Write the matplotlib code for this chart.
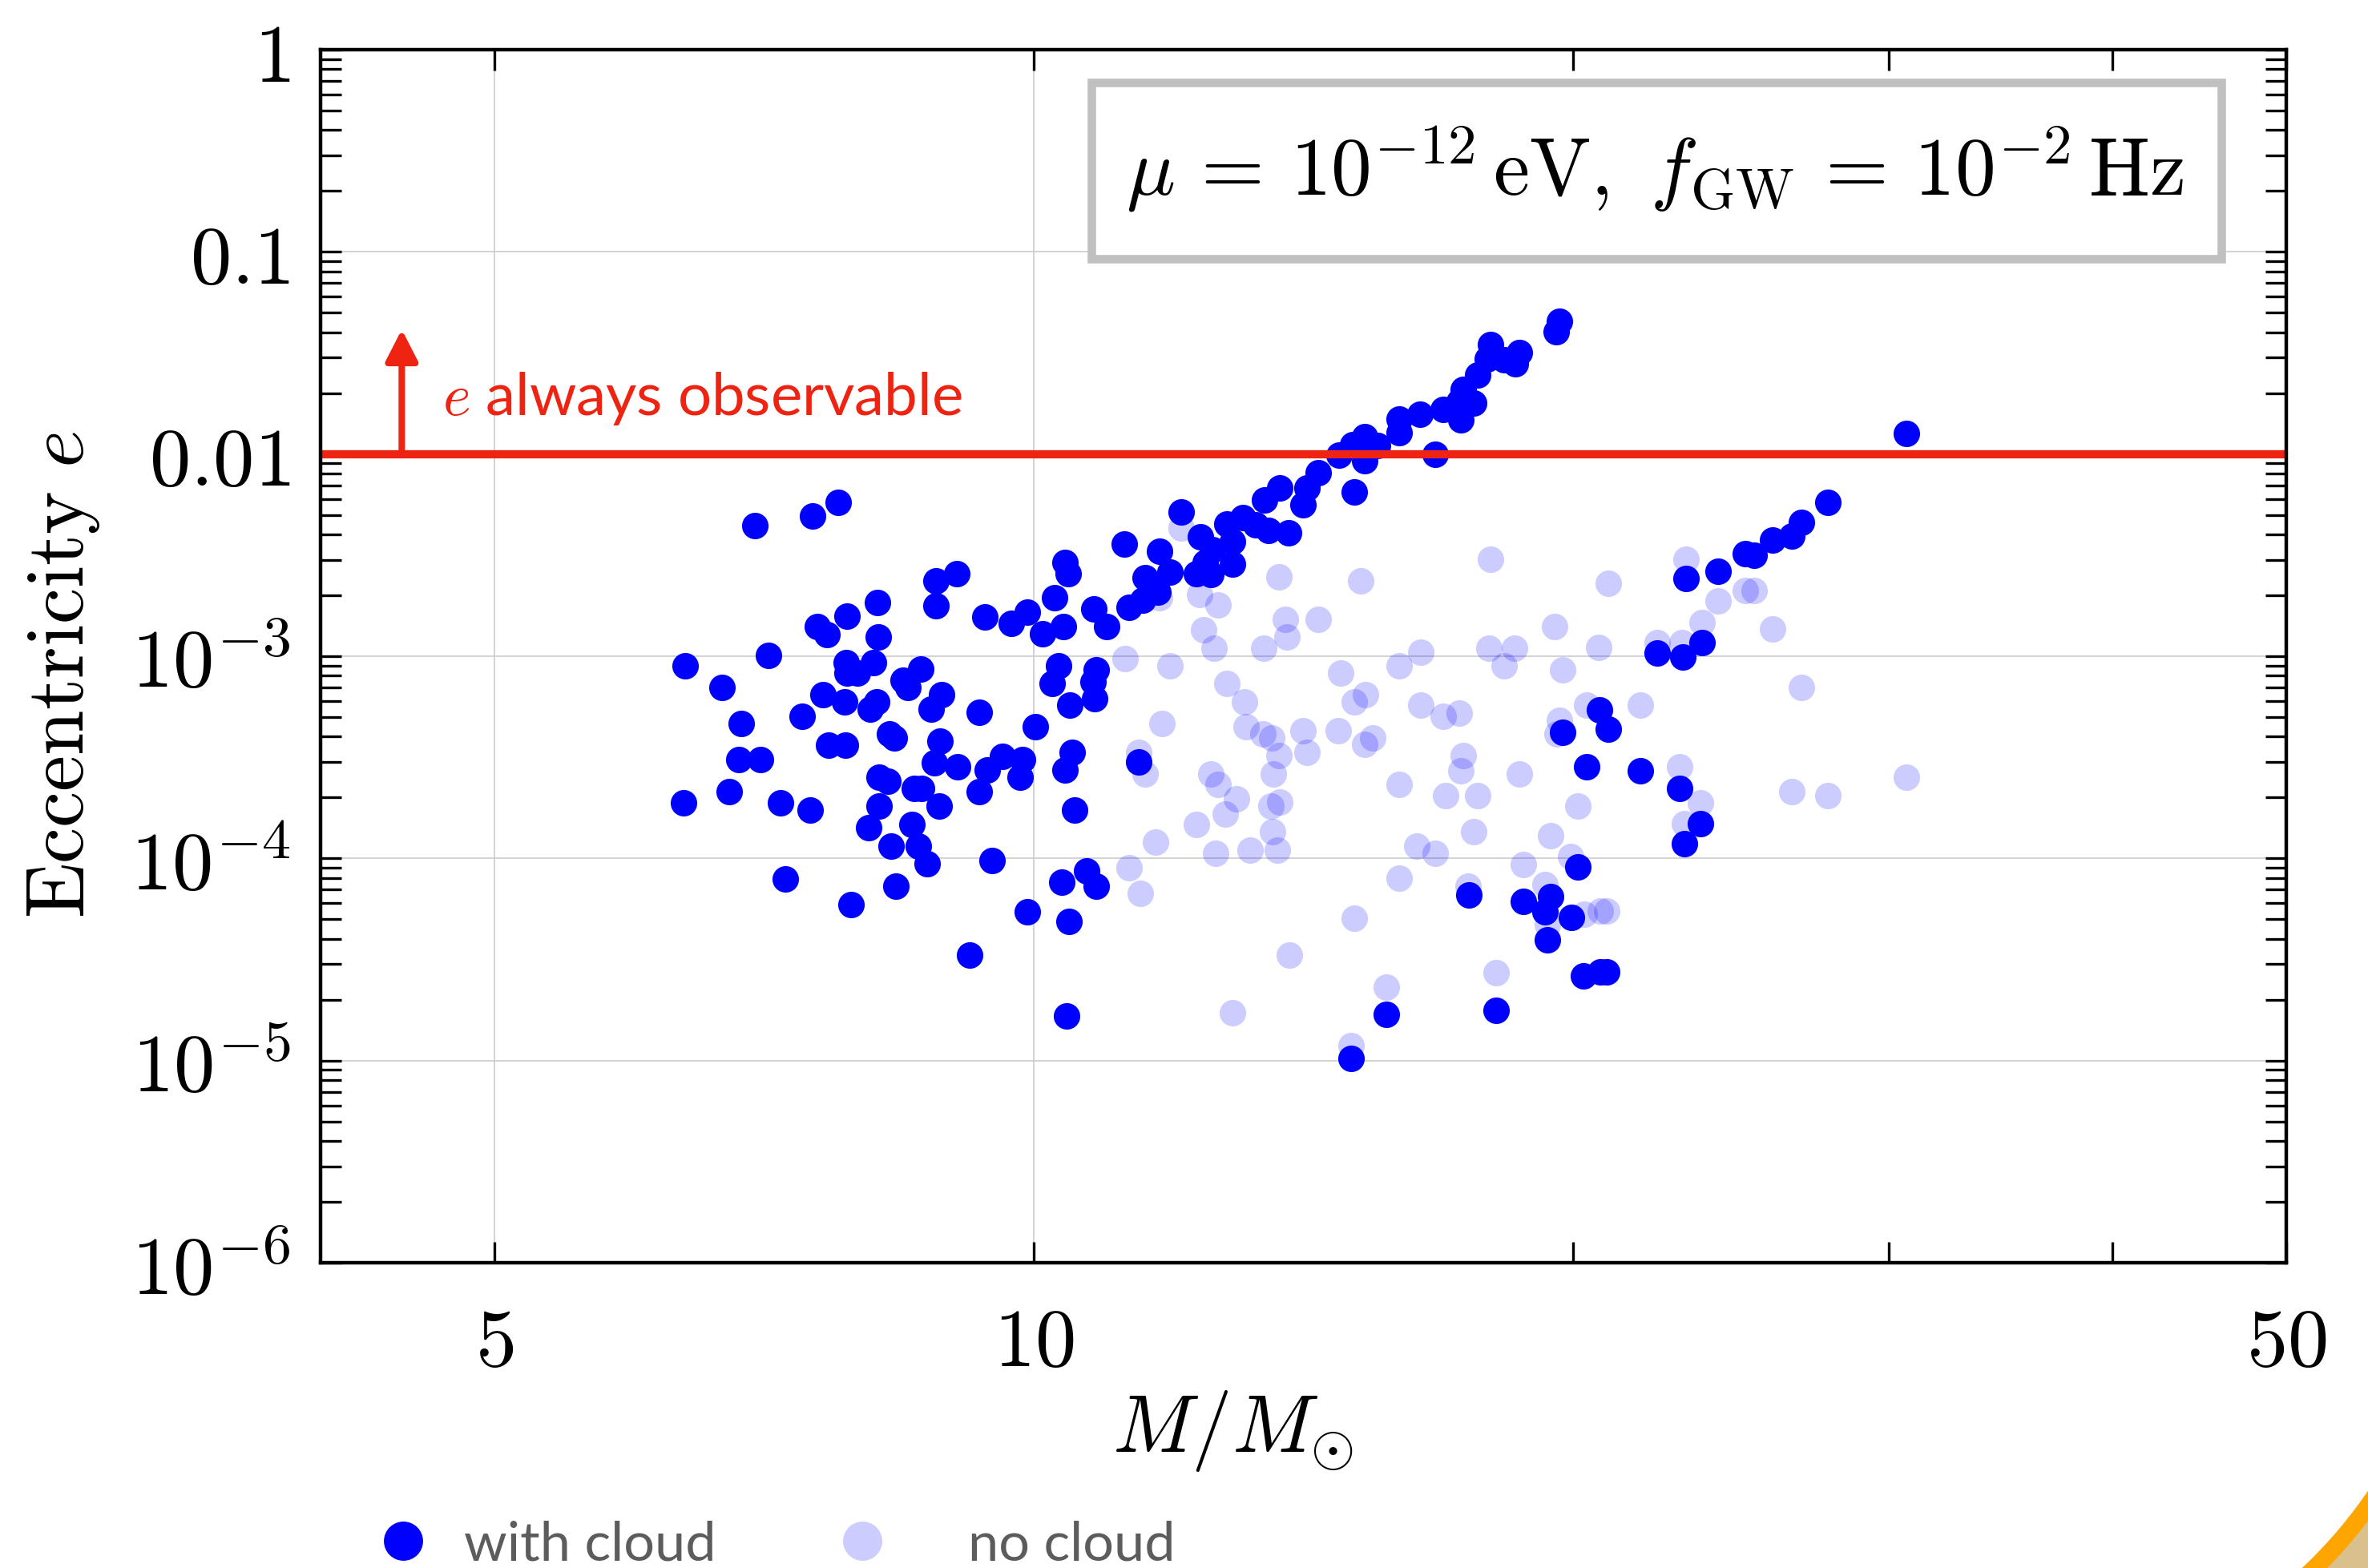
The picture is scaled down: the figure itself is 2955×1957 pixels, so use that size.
import matplotlib
matplotlib.use("Agg")
import matplotlib.pyplot as plt
from matplotlib.patches import Rectangle, Wedge
from matplotlib.lines import Line2D
from matplotlib.ticker import FixedLocator, FixedFormatter, LogLocator, NullFormatter
import matplotlib.transforms as mtransforms

plt.rcParams['mathtext.fontset'] = 'cm'

# binaries that keep their cloud (dark points)
with_cloud_mass = [
    6.99, 7.53, 7.78, 8.82, 9.06, 8.82, 8.18, 7.87, 7.57, 7.67, 8.19, 9.39, 9.72,
    6.39, 7.11, 6.70, 7.86, 8.14, 7.87, 7.97, 8.46, 8.65, 8.51, 8.88, 8.77, 7.63,
    7.84, 8.17, 8.11, 7.43, 6.87, 9.32, 7.68, 7.85, 8.31, 8.36, 8.87, 6.85, 7.04,
    8.80, 9.07, 9.61, 9.86, 9.42, 9.83, 8.20, 8.29, 8.58, 8.66, 9.32, 6.76, 6.38,
    7.22, 7.50, 8.20, 8.86, 8.09, 8.55, 8.33, 8.62, 8.72, 9.48, 7.27,
    7.91, 8.38, 9.92, 9.21,
    19.65, 19.57, 17.98, 17.91, 18.30, 18.57, 18.66, 17.70, 17.36, 17.28, 17.60,
    17.32, 16.92, 16.43, 16.00, 16.00, 16.75, 15.30, 15.56, 15.06, 14.81, 15.30,
    14.42, 15.09, 14.21, 13.72, 13.45, 14.14, 13.09, 12.82, 13.88, 13.52, 13.30,
    12.91, 12.39, 12.09, 12.58, 12.46, 12.91, 12.32, 12.55, 11.92, 11.75, 11.54,
    11.73, 11.51, 11.30, 11.24, 10.80, 10.98, 10.41, 10.45, 10.27, 9.92, 10.12,
    10.39,
    10.33, 10.84, 10.24, 10.79, 10.48, 10.82, 10.02, 10.51, 10.41, 11.44, 10.54,
    10.37, 10.70, 10.84, 10.46, 10.43, 15.04, 15.74, 18.12, 17.49, 18.77, 19.43,
    19.29, 19.34, 19.74,
    30.69, 27.75, 26.81, 26.50, 25.84, 24.95, 25.25, 24.10, 23.13, 23.61, 22.27,
    23.03,
    20.69, 20.92, 20.35, 21.80, 22.94, 23.56, 23.08, 20.13, 19.95, 20.27, 20.72,
    20.88,
]
with_cloud_ecc = [
    4.41e-3, 4.96e-3, 5.78e-3, 2.36e-3, 2.55e-3, 1.77e-3, 1.85e-3, 1.58e-3, 1.40e-3,
    1.28e-3, 1.24e-3, 1.57e-3, 1.45e-3,
    8.95e-4, 1.01e-3, 7.0e-4, 9.31e-4, 9.31e-4, 8.24e-4, 8.24e-4, 7.58e-4, 8.63e-4,
    7.0e-4, 6.46e-4, 5.47e-4, 6.46e-4, 5.94e-4, 5.94e-4, 5.47e-4, 5.05e-4, 4.65e-4,
    5.26e-4, 3.63e-4, 3.63e-4, 4.11e-4, 3.95e-4, 3.79e-4, 3.09e-4, 3.09e-4, 2.96e-4,
    2.84e-4, 3.21e-4, 3.09e-4, 2.73e-4, 2.51e-4, 2.51e-4, 2.41e-4, 2.22e-4, 2.22e-4,
    2.13e-4, 2.13e-4, 1.89e-4, 1.89e-4, 1.73e-4, 1.81e-4, 1.81e-4, 1.42e-4, 1.47e-4,
    1.15e-4, 1.15e-4, 9.4e-5, 9.8e-5, 7.94e-5,
    5.93e-5, 7.31e-5, 5.46e-5, 3.34e-5,
    0.0452, 0.0402, 0.0347, 0.0296, 0.0292, 0.0279, 0.0317, 0.0246, 0.0208, 0.0182,
    0.0179, 0.0147, 0.0166, 0.0157, 0.0149, 0.0128, 0.0100, 0.0122, 0.0110, 0.0111,
    0.0099, 0.00927, 0.00807, 0.00652, 0.00682, 0.00682, 0.00594, 0.00559, 0.00487,
    0.00452, 0.00406, 0.00418, 0.00445, 0.00370, 0.00388, 0.00515, 0.00338, 0.00290,
    0.00285, 0.00256, 0.00253, 0.00260, 0.00330, 0.00245, 0.00207, 0.00189, 0.00175,
    0.00359, 0.00172, 0.00140, 0.00292, 0.00256, 0.00194, 0.00165, 0.00129, 0.00140,
    8.96e-4, 8.6e-4, 7.3e-4, 7.47e-4, 5.72e-4, 6.18e-4, 4.47e-4, 3.35e-4, 2.73e-4,
    3.0e-4, 1.73e-4, 7.61e-5, 8.63e-5, 7.3e-5, 4.86e-5, 1.66e-5, 1.02e-5, 1.69e-5,
    1.77e-5, 6.59e-5, 6.13e-5, 6.48e-5, 5.42e-5, 3.96e-5, 4.21e-4,
    0.0126, 0.00578, 0.00458, 0.00392, 0.00375, 0.00322, 0.00317, 0.00262, 0.00243,
    0.00117, 0.00104, 9.9e-4,
    5.42e-4, 4.34e-4, 2.84e-4, 2.71e-4, 2.21e-4, 1.48e-4, 1.18e-4, 9.04e-5, 5.09e-5,
    2.63e-5, 2.74e-5, 2.74e-5,
]

# same binaries without a cloud (light points)
no_cloud_mass = [
    12.09, 13.71, 15.23, 17.98, 12.38, 12.67, 11.75, 13.82, 14.42, 12.44, 13.85, 19.54,
    11.25, 11.92, 12.61, 13.44, 14.83, 16.00, 16.45, 17.94, 18.55, 18.31, 19.74, 12.82,
    13.11, 11.79, 13.14, 13.43, 13.58, 14.13, 13.71, 14.21, 14.79, 15.10, 15.31, 15.46,
    15.30, 16.44, 16.93, 17.27, 17.37, 17.32, 16.00, 16.97, 17.70, 18.67, 19.65, 19.59,
    19.43, 18.77, 19.29, 19.34, 17.48, 11.44, 11.54, 12.56, 12.67, 12.98, 12.79, 12.33,
    11.70, 12.63, 13.21, 13.67, 13.59, 13.56, 13.72, 13.60, 16.36, 16.75, 17.61, 16.00,
    11.31, 11.47, 15.10, 13.89, 15.74, 18.12, 12.91, 15.04,
    20.92, 23.13, 24.10, 24.95, 25.25, 23.61, 25.84, 23.01, 22.27, 20.67,
    20.35, 21.80, 26.81, 22.94, 23.56, 23.08, 26.50, 27.75, 30.69, 20.13, 19.94, 20.28,
    20.72, 20.88,
]
no_cloud_ecc = [
    0.00431, 0.00246, 0.00236, 0.00301, 0.00202, 0.00179, 0.00195, 0.00152, 0.00152,
    0.00135, 0.00124, 0.00140,
    9.72e-4, 8.96e-4, 1.095e-3, 1.095e-3, 8.26e-4, 8.96e-4, 1.048e-3, 1.095e-3,
    1.095e-3, 8.96e-4, 8.6e-4, 7.3e-4, 5.95e-4, 4.66e-4, 4.47e-4, 4.11e-4, 3.96e-4,
    4.28e-4, 3.22e-4, 3.35e-4, 4.28e-4, 5.95e-4, 6.46e-4, 3.96e-4, 3.65e-4, 5.72e-4,
    5.04e-4, 5.25e-4, 3.22e-4, 2.72e-4, 2.32e-4, 2.05e-4, 2.05e-4, 2.62e-4, 4.84e-4,
    4.11e-4, 1.30e-4, 9.36e-5, 7.42e-5, 4.71e-5, 7.3e-5, 3.35e-4, 2.62e-4, 2.62e-4,
    2.32e-4, 1.97e-4, 1.66e-4, 1.47e-4, 1.20e-4, 1.06e-4, 1.10e-4, 1.10e-4, 1.36e-4,
    1.81e-4, 1.90e-4, 2.62e-4, 1.15e-4, 1.06e-4, 1.35e-4, 7.95e-5, 8.98e-5, 6.73e-5,
    5.06e-5, 3.33e-5, 2.30e-5, 2.72e-5, 1.72e-5, 1.19e-5,
    0.00229, 0.00303, 0.00188, 0.00212, 0.00212, 0.00147, 0.00136, 0.00117, 0.00117,
    0.00111,
    5.72e-4, 5.72e-4, 7.01e-4, 2.84e-4, 1.89e-4, 1.48e-4, 2.14e-4, 2.05e-4, 2.51e-4,
    1.81e-4, 1.02e-4, 5.28e-5, 5.5e-5, 5.5e-5,
]

e_threshold = 0.01
x_ticks = [5, 10, 50]
x_ticklabels = ['$5$', '$10$', '$50$']
x_minor = [20, 30, 40]
y_ticks = [1e-6, 1e-5, 1e-4, 1e-3, 1e-2, 1e-1, 1]
y_ticklabels = ['$10^{-6}$', '$10^{-5}$', '$10^{-4}$', '$10^{-3}$', '$0.01$', '$0.1$', '$1$']

red = '#ee2312'
W, H = 2955, 1957
fig = plt.figure(figsize=(W / 200, H / 200), dpi=200)
ax = fig.add_axes([400 / W, 1 - 1576 / H, 2453 / W, 1514 / H])

ax.scatter(no_cloud_mass, no_cloud_ecc, s=142, color='blue', alpha=0.2, linewidths=0, zorder=2)
ax.scatter(with_cloud_mass, with_cloud_ecc, s=142, color='blue', linewidths=0, zorder=3)
ax.axhline(e_threshold, color=red, lw=3.7, zorder=4)

ax.set_xscale('log')
ax.set_yscale('log')
ax.set_xlim(4, 50)
ax.set_ylim(1e-6, 1)

ax.xaxis.set_major_locator(FixedLocator(x_ticks))
ax.xaxis.set_major_formatter(FixedFormatter(x_ticklabels))
ax.xaxis.set_minor_locator(FixedLocator(x_minor))
ax.xaxis.set_minor_formatter(NullFormatter())
ax.yaxis.set_major_locator(FixedLocator(y_ticks))
ax.yaxis.set_major_formatter(FixedFormatter(y_ticklabels))
ax.yaxis.set_minor_locator(LogLocator(base=10, subs=range(2, 10), numticks=20))
ax.yaxis.set_minor_formatter(NullFormatter())

ax.tick_params(which='both', direction='in', top=True, right=True,
               length=9.5, width=1.2, color='black')
ax.tick_params(axis='y', which='major', labelsize=37, pad=13.5)
ax.tick_params(axis='x', which='major', labelsize=37, pad=18)
for sp in ax.spines.values():
    sp.set_linewidth(1.6)
    sp.set_zorder(6)
ax.grid(True, which='major', color='#cccccc', lw=0.6, zorder=0)
ax.set_axisbelow(True)

ax.set_xlabel(r'$M/M_{\odot}$', fontsize=36.5, labelpad=2)
ax.set_ylabel(r'$\mathrm{Eccentricity}\ e$', fontsize=36.5, labelpad=13)
ax.xaxis.label.set_x(0.464)
ax.yaxis.label.set_y(0.485)

# parameter box
ax.add_patch(Rectangle((0.3922, 0.8276), 0.5748, 0.1453, transform=ax.transAxes,
                       facecolor='white', edgecolor='#c0c0c0', lw=3.8, zorder=5))
ax.text(0.6788, 0.8804,
        r'$\mu\,=\,10^{-12}\,\mathrm{eV},\ f_{\mathrm{GW}}\,=\,10^{-2}\,\mathrm{Hz}$',
        transform=ax.transAxes, ha='center', va='baseline', fontsize=36.5, zorder=6)

# threshold arrow and label
ax.annotate('', xy=(4.44, 0.0413), xytext=(4.44, e_threshold),
            arrowprops=dict(arrowstyle='-|>,head_length=1.19,head_width=0.61',
                            mutation_scale=10, color=red, lw=2.9,
                            shrinkA=0, shrinkB=0), zorder=5)
ax.text(4.68, 0.01557, r'$e$ always observable', color=red, fontsize=26.8,
        family='Lato', ha='left', va='baseline', zorder=5)

# legend along the bottom edge
fs_leg = 24.6
h1 = Line2D([], [], ls='none', marker='o', ms=17.6, mew=0, color='blue')
h2 = Line2D([], [], ls='none', marker='o', ms=17.6, mew=0, color='blue', alpha=0.2)
fig.legend([h1], ['with cloud'], loc='center left', bbox_to_anchor=(469 / W, 1 - 1928 / H),
           frameon=False, borderpad=0, borderaxespad=0, handlelength=1.0,
           handletextpad=0.61, prop={'family': 'Lato', 'size': fs_leg}, labelcolor='#5c5c5c')
fig.legend([h2], ['no cloud'], loc='center left', bbox_to_anchor=(1042 / W, 1 - 1928 / H),
           frameon=False, borderpad=0, borderaxespad=0, handlelength=1.0,
           handletextpad=1.43, prop={'family': 'Lato', 'size': fs_leg}, labelcolor='#5c5c5c')

# corner decoration (pixel coordinates, y downwards)
px = mtransforms.Affine2D().scale(1 / W, -1 / H).translate(0, 1) + fig.transFigure
fig.add_artist(Wedge((2474, 1533), 1000, 15, 65, width=1000 - 600,
                     facecolor='#d9c08c', edgecolor='none', transform=px))
fig.add_artist(Wedge((2474, 1533), 604, 15, 65, width=22,
                     facecolor='#ffa500', edgecolor='none', transform=px))

fig.savefig('out.png', dpi=200, facecolor='white')
